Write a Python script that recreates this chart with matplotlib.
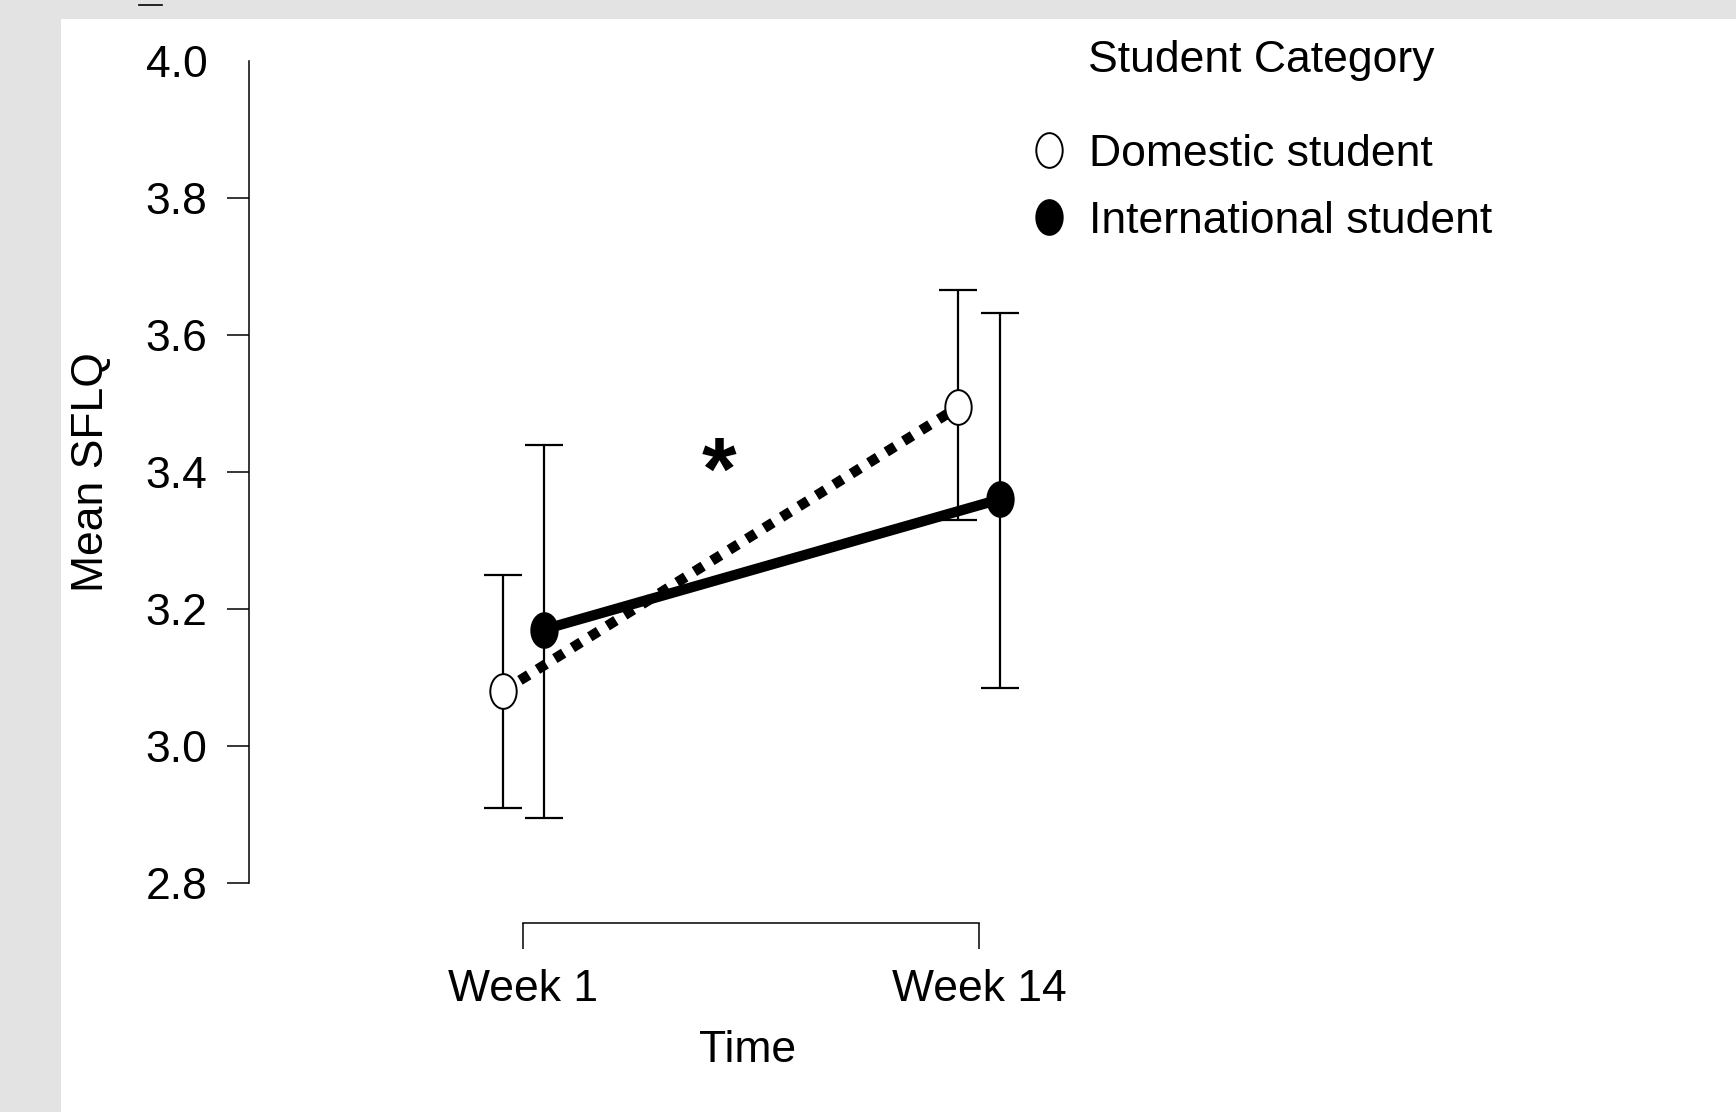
import numpy as np
import matplotlib.pyplot as plt
from matplotlib.path import Path
from matplotlib.transforms import Affine2D
from matplotlib.lines import Line2D
from matplotlib.patches import Rectangle

plt.rcParams["font.family"] = ["Liberation Sans", "DejaVu Sans"]

weeks = ["Week 1", "Week 14"]
domestic_mean = [3.08, 3.495]
domestic_lo = [2.91, 3.33]
domestic_hi = [3.25, 3.665]
intl_mean = [3.17, 3.36]
intl_lo = [2.895, 3.085]
intl_hi = [3.44, 3.632]
yticks = [2.8, 3.0, 3.2, 3.4, 3.6, 3.8, 4.0]

# tall ellipse marker
ellipse = Path.unit_circle().transformed(Affine2D().scale(0.76, 1.0))

fig = plt.figure(figsize=(17.36, 11.12), dpi=100, facecolor="#e3e3e3")
fig.add_artist(Rectangle((61 / 1736, 0), 1, 1 - 19 / 1112, transform=fig.transFigure,
                         facecolor="white", edgecolor="none", zorder=0))
fig.add_artist(Line2D([139 / 1736, 162 / 1736], [1 - 5 / 1112] * 2, transform=fig.transFigure,
                      color="black", lw=1.2))

ax = fig.add_axes([249 / 1736, 229 / 1112, 958 / 1736, 822 / 1112])
ax.set_facecolor("none")

x = np.arange(len(weeks))
off = 0.045

def draw(xs, mean, lo, hi, face, ls, lw):
    mean = np.array(mean)
    err = [mean - np.array(lo), np.array(hi) - mean]
    ax.errorbar(xs, mean, yerr=err, fmt="none", ecolor="black", elinewidth=1.6,
                capsize=14, capthick=1.6, zorder=2, clip_on=False)
    ax.plot(xs, mean, color="black", lw=lw, linestyle=ls, dash_capstyle="butt",
            zorder=3, clip_on=False)
    ax.plot(xs, mean, linestyle="none", marker=ellipse, ms=25, mfc=face, mec="black",
            mew=1.4, zorder=4, clip_on=False)

draw(x - off, domestic_mean, domestic_lo, domestic_hi, "white", (0, (1, 1)), 7.4)
draw(x + off, intl_mean, intl_lo, intl_hi, "black", "-", 7.4)

ax.text(0.43, 3.395, "*", fontsize=64, fontweight="bold", ha="center", va="center")

ax.set_xlim(-0.601, 1.5)
ax.set_ylim(2.8, 4.0)
for s in ["top", "right"]:
    ax.spines[s].set_visible(False)
ax.spines["left"].set_bounds(2.8, 4.0)
ax.spines["bottom"].set_position(("outward", 29))
ax.spines["bottom"].set_bounds(0, 1)
for s in ["left", "bottom"]:
    ax.spines[s].set_linewidth(1.1)

ax.set_yticks(yticks)
ax.set_yticklabels([f"{v:.1f}" for v in yticks])
ax.set_xticks(x)
ax.set_xticklabels(weeks)
ax.tick_params(axis="y", length=16, width=1.1, pad=14, labelsize=32)
ax.tick_params(axis="x", length=19, width=1.1, pad=14, labelsize=32)
ax.yaxis.get_major_ticks()[-1].tick1line.set_visible(False)

ax.set_ylabel("Mean SFLQ", fontsize=32, labelpad=24)
ax.set_xlabel("Time", fontsize=32, labelpad=14)
ax.xaxis.label.set_x(0.52)

handles = [
    Line2D([], [], linestyle="none", marker=ellipse, ms=25, mfc="white", mec="black", mew=1.4),
    Line2D([], [], linestyle="none", marker=ellipse, ms=25, mfc="black", mec="black", mew=1.4),
]
leg = fig.legend(handles, ["Domestic student", "International student"], title="Student Category",
                 loc="upper left", bbox_to_anchor=(991 / 1736, 1), frameon=False,
                 fontsize=32, title_fontsize=32, handlelength=0.8, handletextpad=0.5,
                 labelspacing=0.58)
leg._legend_box.sep = 38

fig.savefig("out.png", dpi=100, facecolor=fig.get_facecolor())
